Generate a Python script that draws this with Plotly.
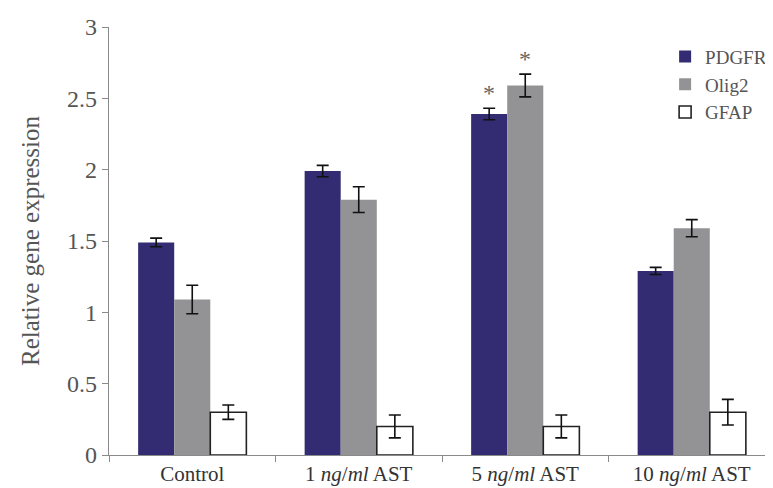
import plotly.graph_objects as go

CATEGORIES = ["Control", "1 <i>ng</i>/<i>ml</i> AST", "5 <i>ng</i>/<i>ml</i> AST", "10 <i>ng</i>/<i>ml</i> AST"]
PDGFR = [1.49, 1.99, 2.39, 1.29]
PDGFR_ERR = [0.03, 0.04, 0.04, 0.025]
OLIG2 = [1.09, 1.79, 2.59, 1.59]
OLIG2_ERR = [0.10, 0.09, 0.08, 0.06]
GFAP = [0.30, 0.20, 0.20, 0.30]
GFAP_ERR = [0.05, 0.08, 0.08, 0.09]
SIGNIFICANT = [("PDGFR", 2), ("Olig2", 2)]  # series, category index with *

FONT = "Liberation Serif"
GREY_TXT = "#555555"
AXIS = "#8a8a8a"

fig = go.Figure()
series = [
    ("PDGFR", PDGFR, PDGFR_ERR, "#332c72", dict(width=0)),
    ("Olig2", OLIG2, OLIG2_ERR, "#939396", dict(width=0)),
    ("GFAP", GFAP, GFAP_ERR, "#ffffff", dict(color="#222222", width=1.6)),
]
for name, vals, errs, color, line in series:
    fig.add_trace(go.Bar(
        name=name, x=CATEGORIES, y=vals,
        marker=dict(color=color, line=line),
        error_y=dict(type="data", array=errs, color="#111111", thickness=1.6, width=6),
    ))

# asterisks above significant bars
lookup = {n: (v, e) for n, v, e, _, _ in series}
shift = {"PDGFR": -36, "Olig2": 0, "GFAP": 36}
for name, idx in SIGNIFICANT:
    v, e = lookup[name]
    fig.add_annotation(x=CATEGORIES[idx], y=v[idx] + e[idx], xshift=shift[name],
                       yanchor="bottom", yshift=0, text="*", showarrow=False,
                       font=dict(family=FONT, size=24, color="#666666"))

fig.update_layout(
    width=773, height=488,
    paper_bgcolor="white", plot_bgcolor="white",
    margin=dict(l=101, r=6, t=16, b=41),
    barmode="group", bargap=0.35, bargroupgap=0,
    font=dict(family=FONT, color=GREY_TXT),
    showlegend=True,
    legend=dict(x=0.835, y=0.975, xanchor="left", yanchor="top",
                font=dict(family=FONT, size=19, color=GREY_TXT),
                bgcolor="rgba(0,0,0,0)", tracegroupgap=0, itemwidth=30),
    xaxis=dict(showline=True, linecolor=AXIS, linewidth=1.2, ticks="outside",
               tickson="boundaries", ticklen=6, tickcolor=AXIS,
               tickfont=dict(family=FONT, size=21, color="#333333"),
               showgrid=False),
    yaxis=dict(range=[0, 3], dtick=0.5, showline=True, linecolor=AXIS, linewidth=1.2,
               ticks="outside", ticklen=6, tickcolor=AXIS, showgrid=False, zeroline=False,
               tickfont=dict(family=FONT, size=24, color=GREY_TXT),
               title=dict(text="Relative gene expression", standoff=20,
                          font=dict(family=FONT, size=25, color=GREY_TXT))),
)

fig.write_html("out.html")
